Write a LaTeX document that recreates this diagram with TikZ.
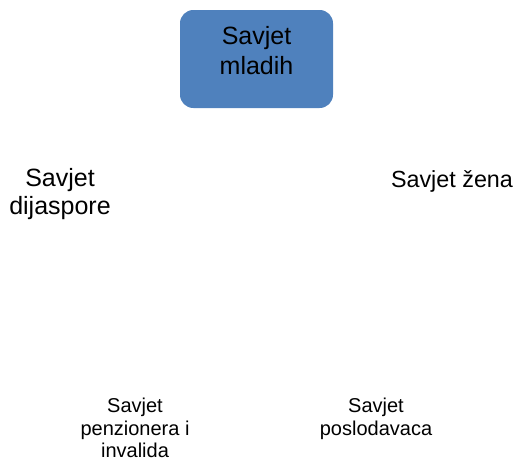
\documentclass[tikz,border=0pt]{standalone}
\usepackage{fontspec}
\setmainfont{Liberation Sans}
\definecolor{boxblue}{RGB}{79,129,189}
\begin{document}
\begin{tikzpicture}[x=0.75pt,y=-0.75pt,
  bigtext/.style={font=\fontsize{18.75}{21}\selectfont, align=center, inner sep=0pt},
  smalltext/.style={font=\fontsize{15}{17}\selectfont, align=center, inner sep=0pt},
  council/.style={fill=boxblue, rounded corners=10pt, minimum width=114.75pt, minimum height=73.5pt, inner sep=0pt}]
\useasboundingbox (0,0) rectangle (516,461);
\node[council] (mladihbox) at (256.5,59) {};
\node[bigtext, font=\fontsize{18.75}{23}\selectfont] (mladih) at (256.5,50.5) {Savjet\\mladih};
\node[bigtext] (dijaspore) at (60,194.5) {Savjet\\dijaspore};
\node[bigtext, font=\fontsize{17.5}{21}\selectfont] (zena) at (452,181) {Savjet žena};
\node[smalltext] (penzionera) at (135,428) {Savjet\\penzionera i\\invalida};
\node[smalltext] (poslodavaca) at (376,419) {Savjet\\poslodavaca};
\end{tikzpicture}
\end{document}
